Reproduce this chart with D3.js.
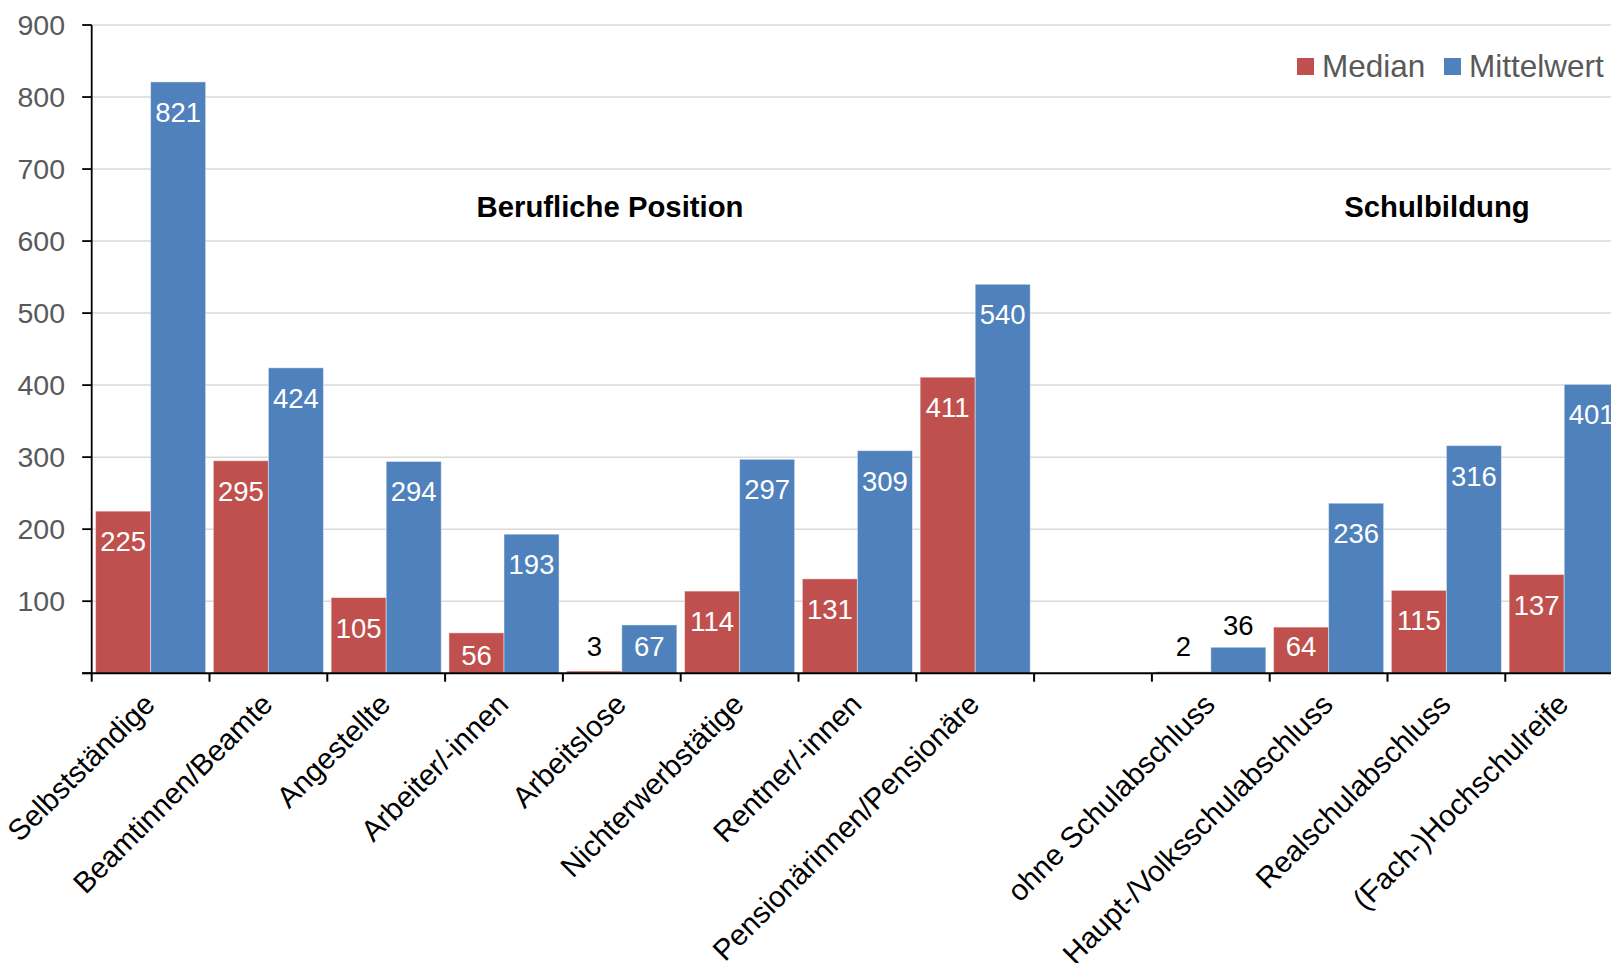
<!DOCTYPE html>
<html>
<head>
<meta charset="utf-8">
<script src="https://cdn.jsdelivr.net/npm/d3@7"></script>
<style>
  html, body { margin: 0; padding: 0; background: #fff; overflow: hidden; }
  svg { display: block; font-family: "Liberation Sans", Arial, sans-serif; }
</style>
</head>
<body>
<svg id="chart" width="1611" height="963"></svg>
<script>
const categories = [
  "Selbstständige", "Beamtinnen/Beamte", "Angestellte", "Arbeiter/-innen",
  "Arbeitslose", "Nichterwerbstätige", "Rentner/-innen", "Pensionärinnen/Pensionäre",
  "", "ohne Schulabschluss", "Haupt-/Volksschulabschluss", "Realschulabschluss",
  "(Fach-)Hochschulreife"
];
const median     = [225, 295, 105, 56, 3, 114, 131, 411, null, 2, 64, 115, 137];
const mittelwert = [821, 424, 294, 193, 67, 297, 309, 540, null, 36, 236, 316, 401];
const seriesNames = ["Median", "Mittelwert"];
const seriesColors = ["#C0504D", "#4F81BD"];
const yTicks = [100, 200, 300, 400, 500, 600, 700, 800, 900];
const groupTitles = ["Berufliche Position", "Schulbildung"];

const svg = d3.select("#chart");
const plotLeft = 91.7, step = 117.8, plotTop = 25, plotBottom = 673.2;

const keys = categories.map((c, i) => "c" + i);
const x0 = d3.scaleBand().domain(keys).range([plotLeft, plotLeft + step * keys.length]).padding(0);
const x1 = d3.scaleBand().domain(seriesNames).range([0, x0.bandwidth()]).paddingInner(0).paddingOuter(0.07);
const y = d3.scaleLinear().domain([0, 900]).range([plotBottom, plotTop]);

// gridlines
svg.append("g").selectAll("line").data(yTicks).join("line")
  .attr("x1", plotLeft).attr("x2", 1611)
  .attr("y1", d => y(d)).attr("y2", d => y(d))
  .attr("stroke", "#D9D9D9").attr("stroke-width", 1.5);

// bars
const seriesData = [median, mittelwert];
const rows = [];
keys.forEach((k, i) => {
  seriesNames.forEach((s, j) => {
    const v = seriesData[j][i];
    if (v !== null) rows.push({ k, s, v, j });
  });
});

svg.append("g").selectAll("rect").data(rows).join("rect")
  .attr("x", d => x0(d.k) + x1(d.s))
  .attr("width", x1.bandwidth())
  .attr("y", d => y(d.v))
  .attr("height", d => y(0) - y(d.v))
  .attr("fill", d => seriesColors[d.j])
  .attr("stroke", "rgba(255,255,255,0.45)")
  .attr("stroke-width", 1);

// data labels
const labelFloor = plotBottom - 17.5;
const isOutside = d => (y(0) - y(d.v)) < 35;
svg.append("g").selectAll("text").data(rows).join("text")
  .attr("x", d => x0(d.k) + x1(d.s) + x1.bandwidth() / 2)
  .attr("y", d => isOutside(d)
      ? Math.min(y(d.v) - 12.6, labelFloor)
      : Math.min(y(d.v) + 40, (y(0) - y(d.v)) < 42 ? y(d.v) + 32 : labelFloor))
  .attr("text-anchor", "middle")
  .attr("font-size", 27.5)
  .attr("fill", d => isOutside(d) ? "#000" : "#fff")
  .text(d => d.v);

// y axis
const yAxis = svg.append("g");
yAxis.append("line").attr("x1", plotLeft).attr("x2", plotLeft).attr("y1", plotTop).attr("y2", plotBottom)
  .attr("stroke", "#000").attr("stroke-width", 1.8);
yAxis.selectAll("line.t").data([0].concat(yTicks)).join("line").attr("class", "t")
  .attr("x1", plotLeft - 9.5).attr("x2", plotLeft)
  .attr("y1", d => y(d)).attr("y2", d => y(d))
  .attr("stroke", "#000").attr("stroke-width", 1.8);
yAxis.selectAll("text").data(yTicks).join("text")
  .attr("x", 65).attr("y", d => y(d))
  .attr("dy", "0.35em")
  .attr("text-anchor", "end")
  .attr("font-size", 28.5)
  .attr("fill", "#595959")
  .text(d => d);

// x axis
const xAxis = svg.append("g");
xAxis.append("line").attr("x1", plotLeft - 9.5).attr("x2", 1611).attr("y1", plotBottom).attr("y2", plotBottom)
  .attr("stroke", "#000").attr("stroke-width", 2);
xAxis.selectAll("line.t").data(keys).join("line").attr("class", "t")
  .attr("x1", d => x0(d)).attr("x2", d => x0(d))
  .attr("y1", plotBottom).attr("y2", plotBottom + 8.5)
  .attr("stroke", "#000").attr("stroke-width", 2);
xAxis.selectAll("text").data(keys).join("text")
  .attr("transform", d => `translate(${x0(d) + x0.bandwidth() / 2 + 6},${plotBottom + 33}) rotate(-45)`)
  .attr("text-anchor", "end")
  .attr("font-size", 29.5)
  .attr("fill", "#000")
  .text((d, i) => categories[i]);

// group titles
const titleAnchors = [
  { key: "c4", frac: 0.40 },
  { key: "c11", frac: 0.42 }
];
svg.append("g").selectAll("text").data(groupTitles).join("text")
  .attr("x", (d, i) => x0(titleAnchors[i].key) + titleAnchors[i].frac * x0.bandwidth())
  .attr("y", y(634))
  .attr("text-anchor", "middle")
  .attr("font-size", 29.3)
  .attr("font-weight", "bold")
  .attr("fill", "#000")
  .text(d => d);

// legend
const legendX = [1297, 1444];
const leg = svg.append("g").selectAll("g").data(seriesNames).join("g")
  .attr("transform", (d, i) => `translate(${legendX[i]},58)`);
leg.append("rect").attr("width", 17).attr("height", 17)
  .attr("fill", (d, i) => seriesColors[i]);
leg.append("text").attr("x", 25).attr("y", 19)
  .attr("font-size", 31.5).attr("fill", "#595959")
  .text(d => d);
</script>
</body>
</html>
